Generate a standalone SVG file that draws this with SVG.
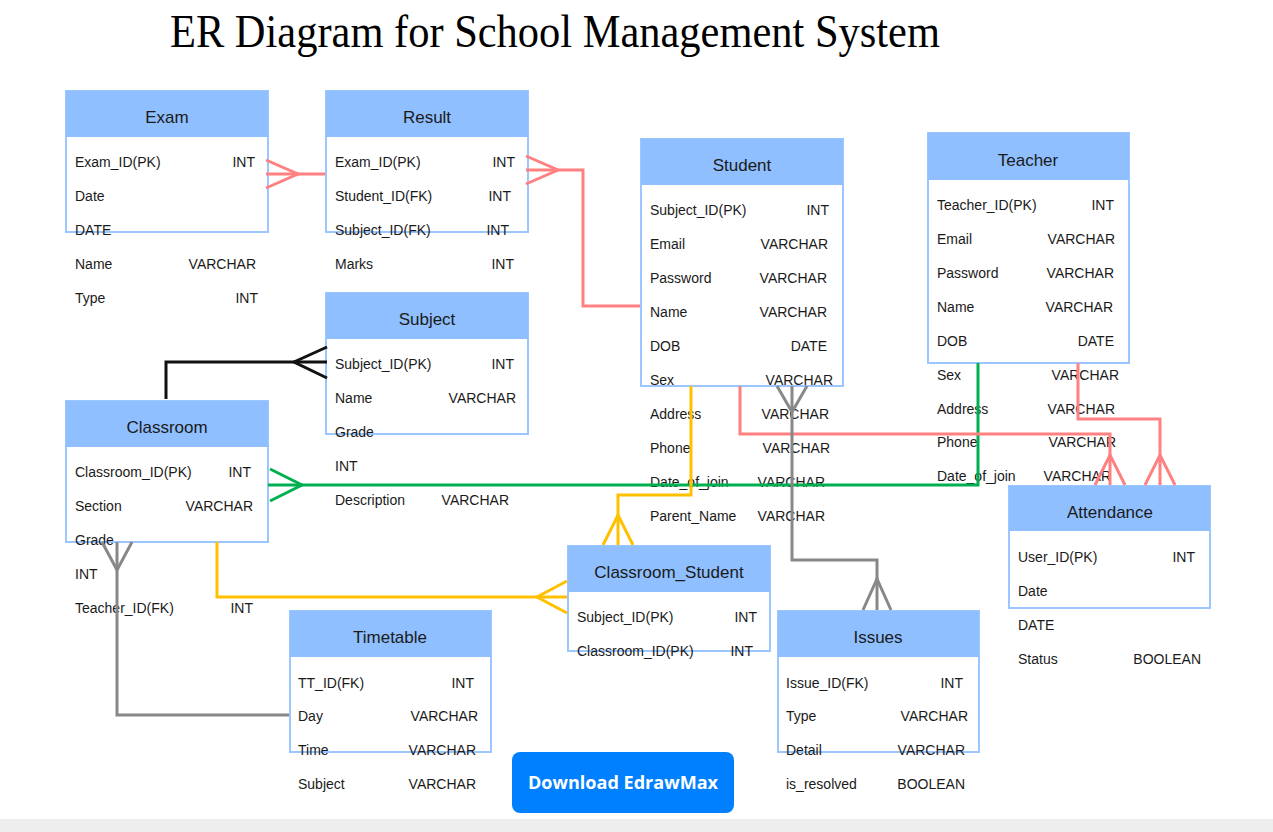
<svg xmlns="http://www.w3.org/2000/svg" width="1273" height="832" viewBox="0 0 1273 832">
<style>
.box{fill:#ffffff;stroke:#9cc6ff;stroke-width:2}
.hdr{fill:#8fbfff}
.ttl{font-family:"Liberation Sans",Arial,sans-serif;font-size:17px;fill:#1a1a1a;text-anchor:middle}
.a{font-family:"Liberation Sans",Arial,sans-serif;font-size:14px;fill:#1a1a1a}
.t{font-family:"Liberation Sans",Arial,sans-serif;font-size:14px;fill:#1a1a1a;text-anchor:end}
.c{fill:none;stroke-width:3;stroke-linejoin:miter}
.pink{stroke:#ff8080}
.green{stroke:#00b050}
.yellow{stroke:#ffc000}
.gray{stroke:#888888}
.black{stroke:#111111}
</style>
<rect x="0" y="0" width="1273" height="832" fill="#ffffff"/>
<rect x="0" y="819" width="1273" height="13" fill="#eeeeee"/>
<text x="170" y="47" font-family="Liberation Serif,'Times New Roman',serif" font-size="46" fill="#000" textLength="770" lengthAdjust="spacingAndGlyphs">ER Diagram for School Management System</text>

<g id="exam">
<rect class="box" x="66" y="91" width="202" height="141"/>
<rect class="hdr" x="66" y="91" width="202" height="46"/>
<text class="ttl" x="167" y="123">Exam</text>
<text class="a" x="75" y="167">Exam_ID(PK)</text><text class="t" x="255" y="167">INT</text>
<text class="a" x="75" y="201">Date</text>
<text class="a" x="75" y="235">DATE</text>
<text class="a" x="75" y="269">Name</text><text class="t" x="256" y="269">VARCHAR</text>
<text class="a" x="75" y="303">Type</text><text class="t" x="258" y="303">INT</text>
</g>

<g id="result">
<rect class="box" x="326" y="91" width="202" height="141"/>
<rect class="hdr" x="326" y="91" width="202" height="46"/>
<text class="ttl" x="427" y="123">Result</text>
<text class="a" x="335" y="167">Exam_ID(PK)</text><text class="t" x="515" y="167">INT</text>
<text class="a" x="335" y="201">Student_ID(FK)</text><text class="t" x="511" y="201">INT</text>
<text class="a" x="335" y="235">Subject_ID(FK)</text><text class="t" x="509" y="235">INT</text>
<text class="a" x="335" y="269">Marks</text><text class="t" x="514" y="269">INT</text>
</g>

<g id="student">
<rect class="box" x="641" y="139" width="202" height="247"/>
<rect class="hdr" x="641" y="139" width="202" height="46"/>
<text class="ttl" x="742" y="171">Student</text>
<text class="a" x="650" y="215">Subject_ID(PK)</text><text class="t" x="829" y="215">INT</text>
<text class="a" x="650" y="249">Email</text><text class="t" x="828" y="249">VARCHAR</text>
<text class="a" x="650" y="283">Password</text><text class="t" x="827" y="283">VARCHAR</text>
<text class="a" x="650" y="317">Name</text><text class="t" x="827" y="317">VARCHAR</text>
<text class="a" x="650" y="351">DOB</text><text class="t" x="827" y="351">DATE</text>
<text class="a" x="650" y="385">Sex</text><text class="t" x="833" y="385">VARCHAR</text>
<text class="a" x="650" y="419">Address</text><text class="t" x="829" y="419">VARCHAR</text>
<text class="a" x="650" y="453">Phone</text><text class="t" x="830" y="453">VARCHAR</text>
<text class="a" x="650" y="487">Date_of_join</text><text class="t" x="825" y="487">VARCHAR</text>
<text class="a" x="650" y="521">Parent_Name</text><text class="t" x="825" y="521">VARCHAR</text>
</g>

<g id="teacher">
<rect class="box" x="928" y="133" width="201" height="230"/>
<rect class="hdr" x="928" y="133" width="201" height="47"/>
<text class="ttl" x="1028" y="166">Teacher</text>
<text class="a" x="937" y="210">Teacher_ID(PK)</text><text class="t" x="1114" y="210">INT</text>
<text class="a" x="937" y="244">Email</text><text class="t" x="1115" y="244">VARCHAR</text>
<text class="a" x="937" y="278">Password</text><text class="t" x="1114" y="278">VARCHAR</text>
<text class="a" x="937" y="312">Name</text><text class="t" x="1113" y="312">VARCHAR</text>
<text class="a" x="937" y="346">DOB</text><text class="t" x="1114" y="346">DATE</text>
<text class="a" x="937" y="380">Sex</text><text class="t" x="1119" y="380">VARCHAR</text>
<text class="a" x="937" y="414">Address</text><text class="t" x="1115" y="414">VARCHAR</text>
<text class="a" x="937" y="447">Phone</text><text class="t" x="1116" y="447">VARCHAR</text>
<text class="a" x="937" y="481">Date_of_join</text><text class="t" x="1111" y="481">VARCHAR</text>
</g>

<g id="subject">
<rect class="box" x="326" y="293" width="202" height="141"/>
<rect class="hdr" x="326" y="293" width="202" height="46"/>
<text class="ttl" x="427" y="325">Subject</text>
<text class="a" x="335" y="369">Subject_ID(PK)</text><text class="t" x="514" y="369">INT</text>
<text class="a" x="335" y="403">Name</text><text class="t" x="516" y="403">VARCHAR</text>
<text class="a" x="335" y="437">Grade</text>
<text class="a" x="335" y="471">INT</text>
<text class="a" x="335" y="505">Description</text><text class="t" x="509" y="505">VARCHAR</text>
</g>

<g id="classroom">
<rect class="box" x="66" y="401" width="202" height="141"/>
<rect class="hdr" x="66" y="401" width="202" height="46"/>
<text class="ttl" x="167" y="433">Classroom</text>
<text class="a" x="75" y="477">Classroom_ID(PK)</text><text class="t" x="251" y="477">INT</text>
<text class="a" x="75" y="511">Section</text><text class="t" x="253" y="511">VARCHAR</text>
<text class="a" x="75" y="545">Grade</text>
<text class="a" x="75" y="579">INT</text>
<text class="a" x="75" y="613">Teacher_ID(FK)</text><text class="t" x="253" y="613">INT</text>
</g>

<g id="attendance">
<rect class="box" x="1009" y="486" width="201" height="122"/>
<rect class="hdr" x="1009" y="486" width="201" height="45"/>
<text class="ttl" x="1110" y="518">Attendance</text>
<text class="a" x="1018" y="562">User_ID(PK)</text><text class="t" x="1195" y="562">INT</text>
<text class="a" x="1018" y="596">Date</text>
<text class="a" x="1018" y="630">DATE</text>
<text class="a" x="1018" y="664">Status</text><text class="t" x="1201" y="664">BOOLEAN</text>
</g>

<g id="classroom_student">
<rect class="box" x="568" y="546" width="202" height="105"/>
<rect class="hdr" x="568" y="546" width="202" height="46"/>
<text class="ttl" x="669" y="578">Classroom_Student</text>
<text class="a" x="577" y="622">Subject_ID(PK)</text><text class="t" x="757" y="622">INT</text>
<text class="a" x="577" y="656">Classroom_ID(PK)</text><text class="t" x="753" y="656">INT</text>
</g>

<g id="timetable">
<rect class="box" x="290" y="611" width="201" height="141"/>
<rect class="hdr" x="290" y="611" width="201" height="46"/>
<text class="ttl" x="390" y="643">Timetable</text>
<text class="a" x="298" y="688">TT_ID(FK)</text><text class="t" x="474" y="688">INT</text>
<text class="a" x="298" y="721">Day</text><text class="t" x="478" y="721">VARCHAR</text>
<text class="a" x="298" y="755">Time</text><text class="t" x="476" y="755">VARCHAR</text>
<text class="a" x="298" y="789">Subject</text><text class="t" x="476" y="789">VARCHAR</text>
</g>

<g id="issues">
<rect class="box" x="778" y="611" width="201" height="141"/>
<rect class="hdr" x="778" y="611" width="201" height="46"/>
<text class="ttl" x="878" y="643">Issues</text>
<text class="a" x="786" y="688">Issue_ID(FK)</text><text class="t" x="963" y="688">INT</text>
<text class="a" x="786" y="721">Type</text><text class="t" x="968" y="721">VARCHAR</text>
<text class="a" x="786" y="755">Detail</text><text class="t" x="965" y="755">VARCHAR</text>
<text class="a" x="786" y="789">is_resolved</text><text class="t" x="965" y="789">BOOLEAN</text>
</g>

<g id="connectors">
<!-- Exam - Result -->
<path class="c pink" d="M266,174 H325"/>
<path class="c pink" d="M266,160 L298,174 L266,188"/>
<!-- Result - Student -->
<path class="c pink" d="M526,170 H583 V306 H640"/>
<path class="c pink" d="M526,156 L558,170 L526,184"/>
<!-- Subject - Classroom -->
<path class="c black" d="M166,399 V362 H327"/>
<path class="c black" d="M327,347 L294,362 L327,378"/>
<!-- Classroom - Teacher -->
<path class="c green" d="M268,485 H978 V363"/>
<path class="c green" d="M270,469 L302,485 L270,501"/>
<!-- Student - Attendance -->
<path class="c pink" d="M740,386 V434 H1110 V485"/>
<path class="c pink" d="M1095,485 L1110,455 L1125,485"/>
<!-- Teacher - Attendance -->
<path class="c pink" d="M1078,363 V419 H1160 V485"/>
<path class="c pink" d="M1145,485 L1160,455 L1175,485"/>
<!-- Student - Classroom_Student -->
<path class="c yellow" d="M691,386 V495 H618 V545"/>
<path class="c yellow" d="M603,545 L618,515 L633,545"/>
<!-- Classroom - Classroom_Student -->
<path class="c yellow" d="M217,542 V597 H567"/>
<path class="c yellow" d="M567,581 L537,597 L567,613"/>
<!-- Classroom - Timetable -->
<path class="c gray" d="M117,542 V715 H289"/>
<path class="c gray" d="M102,542 L117,570 L132,542"/>
<!-- Student - Issues -->
<path class="c gray" d="M792,386 V560 H877 V610"/>
<path class="c gray" d="M777,386 L792,412 L807,386"/>
<path class="c gray" d="M863,610 L877,579 L891,610"/>
</g>

<g id="download_button">
<rect x="512" y="752" width="222" height="61" rx="8" ry="8" fill="#0080ff"/>
<text x="623" y="789" font-family="'Open Sans','Noto Sans',sans-serif" font-weight="bold" font-size="18" fill="#ffffff" text-anchor="middle" textLength="190" lengthAdjust="spacingAndGlyphs">Download EdrawMax</text>
</g>
</svg>
